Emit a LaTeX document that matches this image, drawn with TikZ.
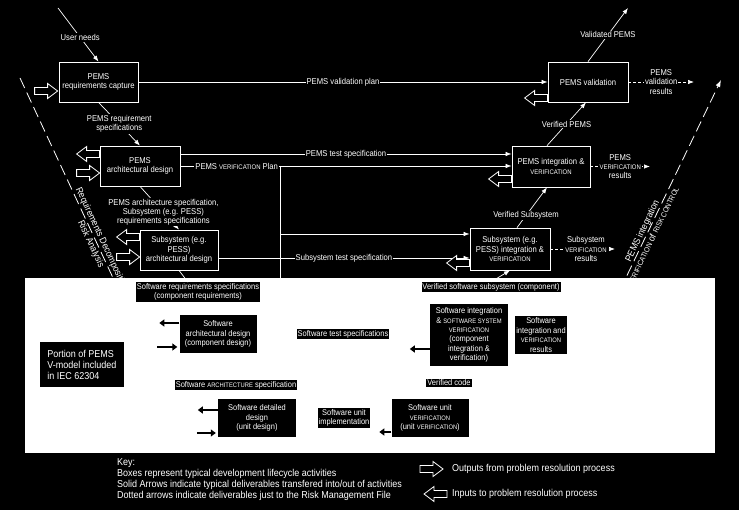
\documentclass[tikz,border=0pt]{standalone}
\usepackage{graphicx}
\usepackage{fontspec}
\setmainfont{Liberation Sans}[FakeStretch=0.9]
\usetikzlibrary{arrows.meta,positioning,calc}
\newcommand{\Vsc}[1]{\scalebox{0.78}{#1}}
\tikzset{
  tbox/.style={draw=white, line width=0.8pt, fill=black, text=white, align=center,
               font=\fontsize{8.5}{9.4}\selectfont, inner sep=1pt},
  lbl/.style={fill=black, text=white, align=center, font=\fontsize{8.5}{9.2}\selectfont, inner sep=1pt},
  sol/.style={white, line width=0.7pt, -{Latex[length=6pt,width=4.5pt]}},
  dsh/.style={sol, dash pattern=on 3pt off 2pt},
  vline/.style={white, line width=0.8pt, dash pattern=on 11pt off 5pt},
  rot/.style={text=white, align=center, font=\fontsize{9.5}{12}\selectfont, inner sep=1pt, sloped},
  pbox/.style={fill=black, text=white, align=center, font=\fontsize{8.3}{9.4}\selectfont, inner sep=1pt},
  sarr/.style={black, line width=2.4pt, -{Triangle[length=5pt,width=7pt]}},
  keytxt/.style={text=white, align=left, font=\fontsize{10}{11}\selectfont, inner sep=0pt, anchor=west},
  pics/holarr/.style={code={\draw[white, line width=0.8pt, fill=black] (0,-3.5) -- (13,-3.5)
      -- (13,-7.5) -- (23,0) -- (13,7.5) -- (13,3.5) -- (0,3.5) -- cycle;}},
}
\begin{document}
\begin{tikzpicture}[x=1pt, y=-1pt]
  \fill[black] (0,0) rectangle (739,510);
  \useasboundingbox (0,0) rectangle (739,510);
  % legs of the V
  \coordinate (lefttop) at (20,78);
  \coordinate (leftbot) at (114,280);
  \path (lefttop) -- (leftbot) node[rot, pos=0.81] (reqdec) {Requirements Decomposition\\Risk Analysis};
  \draw[vline] (lefttop) -- (leftbot);
  \coordinate (rightbot) at (620,290);
  \coordinate (righttop) at (721,80);
  \path (rightbot) -- (righttop) node[rot, pos=0.27] (pemsintv)
    {PEMS integration\\\Vsc{VERIFICATION} of \Vsc{RISK CONTROL}};
  \draw[vline, -{Latex[length=7pt,width=5pt]}] (rightbot) -- (righttop);
  % boxes
  \node[tbox, minimum width=79pt, minimum height=40pt] (reqcap) at (98.5,82) {PEMS\\requirements capture};
  \node[tbox, minimum width=80pt, minimum height=40pt] (pemsval) at (588,82) {PEMS validation};
  \node[tbox, minimum width=80pt, minimum height=40pt] (archdes) at (140,166) {PEMS\\architectural design};
  \node[tbox, minimum width=78pt, minimum height=41pt] (pemsint) at (551,166.5) {PEMS integration \&\\\Vsc{VERIFICATION}};
  \node[tbox, minimum width=78pt, minimum height=40pt] (subarch) at (179,250) {Subsystem (e.g.\\PESS)\\architectural design};
  \node[tbox, minimum width=80pt, minimum height=42pt] (subint) at (510,249) {Subsystem (e.g.\\PESS) integration \&\\\Vsc{VERIFICATION}};
  % deliverables
  \coordinate (usrin) at (58,8);
  \draw[sol] (usrin) -- (reqcap.north) node[lbl, pos=0.55] {User needs};
  \draw[sol] (reqcap.east) -- (pemsval.west) node[lbl, pos=0.5] {PEMS validation plan};
  \coordinate (valout) at (628,8);
  \draw[sol] (pemsval.north) -- (valout) node[lbl, pos=0.5] {Validated PEMS};
  \coordinate (valres) at (694,82);
  \draw[dsh] (pemsval.east) -- (valres) node[lbl, pos=0.5] {PEMS\\validation\\results};
  \draw[sol] (reqcap.south) -- (archdes.north) node[lbl, pos=0.5] {PEMS requirement\\specifications};
  \draw[sol] ([yshift=12pt]archdes.east) -- ([yshift=12pt]archdes.east -| pemsint.west)
    node[lbl, pos=0.5] {PEMS test specification};
  \draw[sol] (archdes.east) -- (archdes.east -| pemsint.west) node[lbl, pos=0.17] {PEMS \Vsc{VERIFICATION} Plan};
  \coordinate (vplan) at (280,166);
  \coordinate (vplanend) at (280,290);
  \draw[white, line width=0.7pt] (vplan) -- (vplanend);
  \draw[sol] ([yshift=15pt]subint.west -| vplan) -- ([yshift=15pt]subint.west);
  \draw[sol] (archdes.south) -- (subarch.north) node[lbl, pos=0.6]
    {PEMS architecture specification,\\Subsystem (e.g. PESS)\\requirements specifications};
  \draw[sol] ([yshift=-8pt]subarch.east) -- ([yshift=-8pt]subarch.east -| subint.west)
    node[lbl, pos=0.5] {Subsystem test specification};
  \draw[sol] ([xshift=7pt]subint.north) -- ([xshift=-4pt]pemsint.south) node[lbl, pos=0.3] {Verified Subsystem};
  \draw[sol] ([xshift=-4pt]pemsint.north) -- ([xshift=-2pt]pemsval.south) node[lbl, pos=0.5] {Verified PEMS};
  \coordinate (intres) at (650,166.5);
  \draw[dsh] (pemsint.east) -- (intres) node[lbl, pos=0.5] {PEMS\\\Vsc{VERIFICATION}\\results};
  \coordinate (subres) at (615,249);
  \draw[dsh] (subint.east) -- (subres) node[lbl, pos=0.55] {Subsystem\\\Vsc{VERIFICATION}\\results};
  % problem resolution arrows
  \pic at ([xshift=-24pt,yshift=-9pt]reqcap.west) {holarr};
  \pic[rotate=180] at ([yshift=-16pt]pemsval.west) {holarr};
  \pic[rotate=180] at ([yshift=12pt]archdes.west) {holarr};
  \pic at ([xshift=-23pt,yshift=-7pt]archdes.west) {holarr};
  \pic[rotate=180] at ([yshift=-12.5pt]pemsint.west) {holarr};
  \pic[rotate=180] at ([yshift=13pt]subarch.west) {holarr};
  \pic at ([xshift=-23pt,yshift=-7pt]subarch.west) {holarr};
  \pic[rotate=180] at ([yshift=-14pt]subint.west) {holarr};
  % IEC 62304 part
  \node[fill=white, minimum width=690pt, minimum height=175pt, inner sep=0pt] (panel) at (370,365.5) {};
  \node[pbox, minimum width=123pt, minimum height=19pt] (swreq) at (198,292) {Software requirements specifications\\(component requirements)};
  \node[pbox, minimum width=77pt, minimum height=38pt] (swarch) at (218,334) {Software\\architectural design\\(component design)};
  \node[pbox, minimum width=84pt, minimum height=45pt, align=left, font=\fontsize{10}{11}\selectfont] (portion) at (82,364.5)
    {Portion of PEMS\\V-model included\\in IEC 62304};
  \node[pbox] (swtest) at (343,334) {Software test specifications};
  \node[pbox] (swarchsp) at (236,385) {Software \Vsc{ARCHITECTURE} specification};
  \node[pbox, minimum width=78pt, minimum height=37pt] (swdet) at (257,418) {Software detailed\\design\\(unit design)};
  \node[pbox] (swimpl) at (344,418) {Software unit\\implementation};
  \node[pbox, minimum width=77pt, minimum height=38pt] (swuver) at (430,418) {Software unit\\\Vsc{VERIFICATION}\\(unit \Vsc{VERIFICATION})};
  \node[pbox] (vcode) at (449,383) {Verified code};
  \node[pbox, minimum width=78pt, minimum height=62pt] (swint) at (469,335)
    {Software integration\\\& \Vsc{SOFTWARE SYSTEM}\\\Vsc{VERIFICATION}\\(component\\integration \&\\verification)};
  \node[pbox, minimum width=52pt, minimum height=38pt] (swres) at (541,335) {Software\\integration and\\\Vsc{VERIFICATION}\\results};
  \node[pbox] (vsws) at (491,287) {Verified software subsystem (component)};
  \draw[white, line width=0.7pt] (subarch.south) -- ([xshift=-10pt]swreq.north);
  \draw[sol] (vsws.north) -- (subint.south);
  \draw[sarr] ([yshift=11pt]swarch.west) -- ++(-20,0);
  \draw[sarr] ([xshift=-22pt,yshift=-13pt]swarch.west) -- ++(20,0);
  \draw[sarr] ([yshift=8pt]swdet.west) -- ++(-20,0);
  \draw[sarr] ([xshift=-21pt,yshift=-15pt]swdet.west) -- ++(19,0);
  \draw[sarr] ([yshift=-14pt]swint.west) -- ++(-20,0);
  \draw[sarr] ([yshift=-14pt]swuver.west) -- ++(-12,0);
  % key
  \node[keytxt, anchor=north west] (keynote) at (117,458) {Key:\\Boxes represent typical development lifecycle activities\\
    Solid Arrows indicate typical deliverables transfered into/out of activities\\
    Dotted arrows indicate deliverables just to the Risk Management File};
  \node[keytxt] (outtxt) at (452,469) {Outputs from problem resolution process};
  \node[keytxt] (intxt) at (452,494) {Inputs to problem resolution process};
  \pic at ([xshift=-32pt]outtxt.west) {holarr};
  \pic[rotate=180] at ([xshift=-5pt]intxt.west) {holarr};
\end{tikzpicture}
\end{document}
